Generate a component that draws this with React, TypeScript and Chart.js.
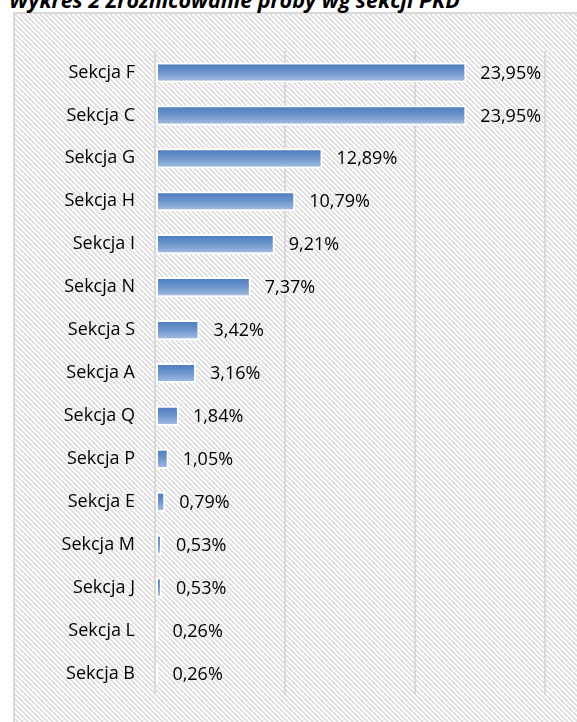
import React, { useEffect, useRef } from "react";
import { Chart, registerables } from "chart.js";

Chart.register(...registerables);

const titleText = "Wykres 2 Zróżnicowanie próby wg sekcji PKD";
const categories = [
  "Sekcja F", "Sekcja C", "Sekcja G", "Sekcja H", "Sekcja I", "Sekcja N", "Sekcja S",
  "Sekcja A", "Sekcja Q", "Sekcja P", "Sekcja E", "Sekcja M", "Sekcja J", "Sekcja L", "Sekcja B",
];
const values = [23.95, 23.95, 12.89, 10.79, 9.21, 7.37, 3.42, 3.16, 1.84, 1.05, 0.79, 0.53, 0.53, 0.26, 0.26];
const xMax = 30;
const xStep = 10;

const FONT = "'Open Sans', sans-serif";

const hatchSvg =
  "data:image/svg+xml;utf8," +
  encodeURIComponent(
    "<svg xmlns='http://www.w3.org/2000/svg' width='5' height='5'>" +
      "<rect width='5' height='5' fill='#ffffff'/>" +
      "<path d='M-1,-1 L6,6 M-1,4 L1,6 M4,-1 L6,1' stroke='#dcdcdc' stroke-width='1.6'/>" +
      "</svg>"
  );

const labelPlugin = {
  id: "valueLabels",
  afterDatasetsDraw(chart: any) {
    const ctx = chart.ctx;
    const meta = chart.getDatasetMeta(0);
    ctx.save();
    ctx.font = `18px ${FONT}`;
    ctx.fillStyle = "#000";
    ctx.textAlign = "left";
    ctx.textBaseline = "middle";
    meta.data.forEach((el: any, i: number) => {
      const v = values[i];
      const txt = v.toFixed(2).replace(".", ",") + "%";
      ctx.fillText(txt, el.x + 14, el.y + 1);
    });
    ctx.restore();
  },
};

export default function App() {
  const canvasRef = useRef<HTMLCanvasElement | null>(null);

  useEffect(() => {
    if (!canvasRef.current) return;
    const chart = new Chart(canvasRef.current, {
      type: "bar",
      data: {
        labels: categories,
        datasets: [
          {
            data: values,
            backgroundColor: (c: any) => {
              const ch = c.chart;
              const ys = ch.scales && ch.scales.y;
              if (!ys || c.dataIndex === undefined) return "#6f97cc";
              const cy = ys.getPixelForValue(c.dataIndex);
              if (!Number.isFinite(cy)) return "#6f97cc";
              const g = ch.ctx.createLinearGradient(0, cy - 9, 0, cy + 9);
              g.addColorStop(0, "#4b7bbd");
              g.addColorStop(0.5, "#6e96cc");
              g.addColorStop(1, "#a3bde2");
              return g;
            },
            borderColor: "#ffffff",
            borderWidth: 2,
            borderSkipped: false,
            categoryPercentage: 1,
            barPercentage: 0.47,
          },
        ],
      },
      options: {
        indexAxis: "y",
        animation: false,
        responsive: false,
        maintainAspectRatio: false,
        layout: { padding: { left: 0, right: 32, top: 51, bottom: 27 } },
        plugins: {
          legend: { display: false },
          tooltip: { enabled: false },
          title: { display: false },
        },
        scales: {
          x: {
            min: 0,
            max: xMax,
            ticks: { display: false, stepSize: xStep },
            grid: { color: "#d9d9d9", lineWidth: 2, drawTicks: false },
            border: { display: false },
          },
          y: {
            ticks: {
              color: "#000",
              font: { family: FONT, size: 18 },
              padding: 12,
            },
            grid: { display: false },
            border: { display: false },
            afterFit: (s: any) => {
              s.width = 155;
            },
          },
        },
      },
      plugins: [labelPlugin],
    } as any);
    return () => chart.destroy();
  }, []);

  return (
    <div
      style={{
        position: "fixed",
        left: 0,
        top: 0,
        width: 577,
        height: 722,
        overflow: "hidden",
        background: "#fff",
      }}
    >
      <div
        style={{
          position: "absolute",
          left: 13,
          top: 12,
          width: 620,
          height: 740,
          border: "2px solid #d9d9d9",
          boxSizing: "border-box",
          backgroundColor: "#fff",
          backgroundImage: `url("${hatchSvg}")`,
          backgroundRepeat: "repeat",
        }}
      />
      <div
        style={{
          position: "absolute",
          left: 9,
          top: -10,
          fontFamily: FONT,
          fontWeight: 700,
          fontStyle: "italic",
          fontSize: 21.5,
          lineHeight: "20px",
          whiteSpace: "nowrap",
          color: "#000",
        }}
      >
        {titleText}
      </div>
      <canvas
        ref={canvasRef}
        width={577}
        height={722}
        style={{ position: "absolute", left: 0, top: 0, width: 577, height: 722 }}
      />
    </div>
  );
}
